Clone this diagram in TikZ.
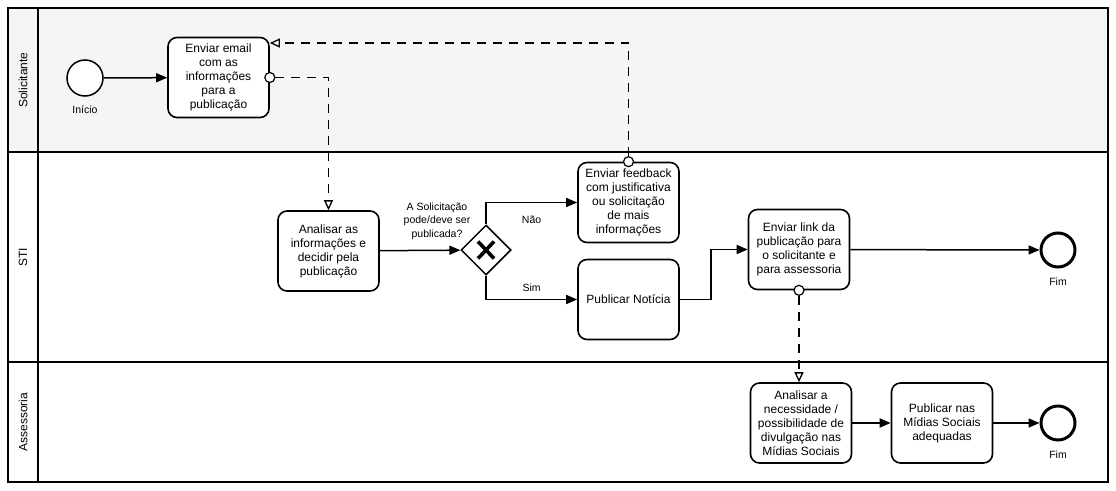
\documentclass[tikz,border=0pt]{standalone}
\usepackage{fontspec}
\setmainfont{Liberation Sans}
\usetikzlibrary{shapes.geometric,arrows.meta,positioning,calc}

\definecolor{lanegray}{HTML}{F5F5F5}

\tikzset{
    task/.style={draw, rectangle, rounded corners=9pt, line width=1.6pt, fill=white,
        minimum width=101pt, minimum height=80pt, align=center, inner sep=2pt,
        font=\fontsize{12}{14}\selectfont},
    startev/.style={draw, circle, line width=1.5pt, fill=white, minimum size=36pt, inner sep=0pt},
    endev/.style={draw, circle, line width=3pt, fill=white, minimum size=34pt, inner sep=0pt},
    xgate/.style={draw, diamond, line width=1.5pt, fill=white, minimum size=50pt, inner sep=0pt},
    msgdot/.style={draw, circle, line width=1.2pt, fill=white, minimum size=10pt, inner sep=0pt},
    flow/.style={line width=1.5pt, -{Triangle[length=11pt, width=9pt]}},
    msg/.style={line width=1.4pt, dash pattern=on 9pt off 7pt, -{Triangle[open, length=10pt, width=9pt, line width=1.3pt, fill=white]}},
    small/.style={font=\fontsize{10.5}{13.5}\selectfont, align=center},
    lanelabel/.style={rotate=90, font=\fontsize{12}{14}\selectfont}
}

\begin{document}
\begin{tikzpicture}[x=1pt, y=-1pt]
    \useasboundingbox (0,0) rectangle (1116,490);

    % lanes
    \fill [lanegray] (8,8) rectangle (1108,152);
    \draw [line width=1.6pt] (8,8) rectangle (1108,482);
    \draw [line width=1.6pt] (8,152) -- (1108,152);
    \draw [line width=1.6pt] (8,362) -- (1108,362);
    \draw [line width=1.6pt] (38,8) -- (38,482);
    \node [lanelabel] (solic) at (23,80) {Solicitante};
    \node [lanelabel] (sti) at (23,257) {STI};
    \node [lanelabel] (asses) at (23,422) {Assessoria};

    % Solicitante
    \node [startev] (inicio) at (85,78) {};
    \node [small, below=5pt of inicio] (inicioLbl) {Início};
    \node [task] (email) at (218.5,77.5) {Enviar email\\com as\\informações\\para a\\publicação};

    % STI
    \node [task] (analisar) at (328.5,251) {Analisar as\\informações e\\decidir pela\\publicação};
    \node [xgate] (gw) at (486,250) {};
    \draw [line width=3.6pt] ($(gw)+(-8,-8.5)$) -- ($(gw)+(8,8.5)$);
    \draw [line width=3.6pt] ($(gw)+(-8,8.5)$) -- ($(gw)+(8,-8.5)$);
    \node [small] (gwLbl) at (437,221) {A Solicitação\\pode/deve ser\\publicada?};
    \node [task] (feedback) at (628.5,202.5) {Enviar feedback\\com justificativa\\ou solicitação\\de mais\\informações};
    \node [task] (noticia) at (628.5,299.5) {Publicar Notícia};
    \node [task] (link) at (799,249.5) {Enviar link da\\publicação para\\o solicitante e\\para assessoria};
    \node [endev] (fim1) at (1058,250) {};
    \node [small, below=6pt of fim1] (fim1Lbl) {Fim};

    % Assessoria
    \node [task] (necess) at (801,423) {Analisar a\\necessidade /\\possibilidade de\\divulgação nas\\Mídias Sociais};
    \node [task] (midias) at (942,423) {Publicar nas\\Mídias Sociais\\adequadas};
    \node [endev] (fim2) at (1058,423) {};
    \node [small, below=6pt of fim2] (fim2Lbl) {Fim};

    % sequence flows
    \draw [flow] (inicio) -- (email);
    \draw [flow] (analisar) -- (gw);
    \draw [flow] (gw.north) |- (feedback.west) node [small, pos=0.75, below=9pt] {Não};
    \draw [flow] (gw.south) |- (noticia.west) node [small, pos=0.75, above=4pt] {Sim};
    \draw [flow] (noticia.east) -- ++(31,0) |- (link.west);
    \draw [flow] (link) -- (fim1);
    \draw [flow] (necess) -- (midias);
    \draw [flow] (midias) -- (fim2);

    % message flows
    \node [msgdot] (m1) at (email.east) {};
    \node [msgdot] (m2) at (feedback.north) {};
    \node [msgdot] (m3) at (link.south) {};
    \draw [msg] (m1) -| (analisar.north);
    \draw [msg] (m2) |- ([yshift=34.5pt]email.east);
    \draw [msg] (m3) -- (m3 |- necess.north);
\end{tikzpicture}
\end{document}
